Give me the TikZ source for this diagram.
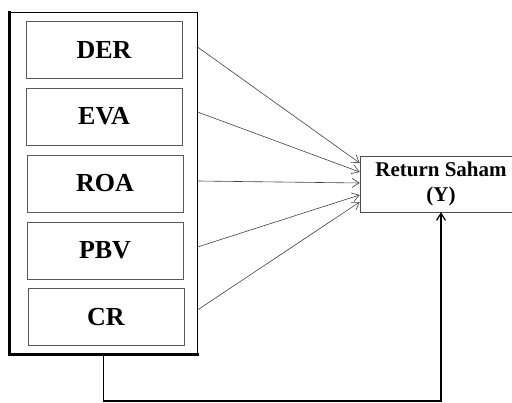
\documentclass[tikz,border=0pt]{standalone}
\usepackage{fontspec}
\setmainfont{Liberation Serif}
\usetikzlibrary{arrows.meta}

\tikzset{
	var/.style={draw=black!65, line width=0.6pt, minimum width=156pt, minimum height=57pt, inner sep=0pt, font=\bfseries\fontsize{26}{30}\selectfont},
	ret/.style={draw=black!70, line width=0.6pt, minimum width=162pt, minimum height=56pt, inner sep=0pt, align=center, font=\bfseries\fontsize{21}{25}\selectfont},
	arr/.style={draw=black!75, line width=0.6pt, -{Straight Barb[length=7pt,width=9pt]}},
}

\begin{document}
\begin{tikzpicture}[x=1pt,y=-1pt]

					\clip (0,0) rectangle (512,403);

					% frame round the variables
					\node [draw, line width=1pt, minimum width=187pt, minimum height=341pt, inner sep=0pt] (frame) at (103.5,183.5) {};
					\draw [line width=3.5pt, line cap=rect] (frame.north west) -- (frame.south west) -- (frame.south east);

					% variables
					\node [var] (der) at (104,50) {DER};
					\node [var] (eva) at (104,116.5) {EVA};
					\node [var] (roa) at (105,183.5) {ROA};
					\node [var] (pbv) at (105,250.5) {PBV};
					\node [var] (cr) at (106,317) {CR};

					% dependent variable
					\node [ret] (ret) at (441,184) {Return Saham\\(Y)};

					% paths
					\foreach \a/\b in {136.5/21, 71.5/12, 2.5/1, -63.5/-11, -126.5/-18}
						\draw [arr] ([yshift=\a pt]frame.east) -- ([yshift=\b pt]ret.west);

					\coordinate (low) at (105,401);
					\draw [arr, draw=black, line width=1.2pt] (frame.south) |- (low -| ret.south) -- (ret.south);

				\end{tikzpicture}
\end{document}
